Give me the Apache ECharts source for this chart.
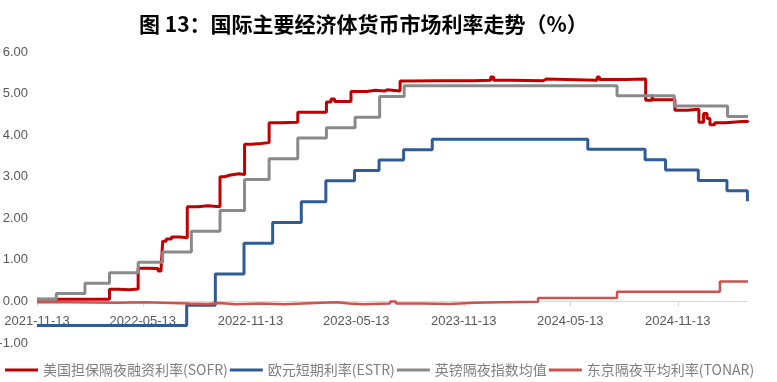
<!DOCTYPE html>
<html>
<head>
<meta charset="utf-8">
<script src="https://cdn.jsdelivr.net/npm/echarts@6.0.0/dist/echarts.min.js"></script>
<style>
  html, body { margin: 0; padding: 0; background: #fff; }
  #chart { width: 777px; height: 382px; }
</style>
</head>
<body>
<div id="chart"></div>
<script>
// 图 13：国际主要经济体货币市场利率走势（%）
const xTickLabels = ['2021-11-13', '2022-05-13', '2022-11-13', '2023-05-13', '2023-11-13', '2024-05-13', '2024-11-13'];
const xStart = '2021-11-13';
const xEnd = '2025-03-13';

// 美国担保隔夜融资利率(SOFR)
const sofrDates = ['2021-11-13', '2022-03-17', '2022-04-01', '2022-04-20', '2022-05-05', '2022-05-20', '2022-06-08', '2022-06-13',
  '2022-06-16', '2022-06-22', '2022-07-01', '2022-07-15', '2022-07-28', '2022-08-15', '2022-09-01',
  '2022-09-22', '2022-09-30', '2022-10-10', '2022-10-25', '2022-11-03', '2022-11-15', '2022-12-01',
  '2022-12-15', '2023-01-03', '2023-02-02', '2023-03-23', '2023-03-31', '2023-04-06',
  '2023-05-04', '2023-05-31', '2023-06-15', '2023-06-30', '2023-07-05', '2023-07-27', '2023-08-15',
  '2023-09-29', '2023-10-02', '2023-11-30', '2023-12-01', '2023-12-29', '2024-01-03', '2024-02-01',
  '2024-03-28', '2024-04-02', '2024-06-28', '2024-07-02', '2024-08-15', '2024-09-19', '2024-09-30',
  '2024-10-01', '2024-10-31', '2024-11-08', '2024-11-29', '2024-12-19', '2024-12-27', '2025-01-02',
  '2025-01-07', '2025-01-15', '2025-02-03', '2025-03-03', '2025-03-13'];
const sofrValues = [0.05, 0.29, 0.28, 0.30, 0.80, 0.79, 0.73, 0.70,
  1.45, 1.50, 1.55, 1.53, 2.28, 2.30, 2.28,
  3.00, 3.04, 3.07, 3.05, 3.78, 3.80, 3.82,
  4.30, 4.31, 4.55, 4.80, 4.87, 4.81,
  5.05, 5.08, 5.06, 5.09, 5.06, 5.30, 5.31,
  5.33, 5.31, 5.35, 5.32, 5.40, 5.32, 5.31,
  5.35, 5.32, 5.40, 5.34, 5.35, 4.84, 4.98,
  4.85, 4.86, 4.60, 4.62, 4.31, 4.52, 4.40,
  4.25, 4.30, 4.33, 4.33, 4.31];

// 欧元短期利率(ESTR)
const estrDates = ['2021-11-13', '2022-07-27', '2022-09-14', '2022-11-02', '2022-12-21', '2023-02-08', '2023-03-22',
  '2023-05-10', '2023-06-21', '2023-08-02', '2023-09-20', '2024-06-12', '2024-09-18', '2024-10-23',
  '2024-12-18', '2025-02-05', '2025-03-12', '2025-03-13'];
const estrValues = [-0.58, -0.09, 0.66, 1.40, 1.90, 2.40, 2.90,
  3.15, 3.40, 3.65, 3.90, 3.66, 3.41, 3.16,
  2.91, 2.66, 2.41, 2.41];

// 英镑隔夜指数均值
const soniaDates = ['2021-11-13', '2021-12-16', '2022-02-03', '2022-03-17', '2022-05-05', '2022-06-16', '2022-08-04',
  '2022-09-22', '2022-11-03', '2022-12-15', '2023-02-02', '2023-03-23', '2023-05-11', '2023-06-22',
  '2023-08-03', '2024-08-01', '2024-11-07', '2025-02-06', '2025-03-13'];
const soniaValues = [0.05, 0.19, 0.44, 0.69, 0.94, 1.19, 1.69,
  2.19, 2.93, 3.43, 3.93, 4.18, 4.43, 4.93,
  5.19, 4.95, 4.70, 4.45, 4.45];

// 东京隔夜平均利率(TONAR)
const tonarDates = ['2021-11-13', '2022-01-04', '2022-04-01', '2022-05-16', '2022-06-15', '2022-08-01', '2022-09-01',
  '2022-09-20', '2022-10-20', '2022-12-01', '2023-01-10', '2023-03-15', '2023-04-10', '2023-05-01',
  '2023-05-25', '2023-07-10', '2023-07-20', '2023-09-01', '2023-10-20', '2023-12-01', '2024-01-15',
  '2024-03-19', '2024-08-01', '2025-01-24', '2025-03-13'];
const tonarValues = [-0.02, -0.03, -0.02, -0.03, -0.05, -0.06, -0.04,
  -0.07, -0.05, -0.07, -0.03, -0.02, -0.05, -0.07,
  -0.05, 0.00, -0.05, -0.06, -0.03, -0.02, -0.01,
  0.08, 0.23, 0.48, 0.48];

const seriesNames = ['美国担保隔夜融资利率(SOFR)', '欧元短期利率(ESTR)', '英镑隔夜指数均值', '东京隔夜平均利率(TONAR)'];
const seriesColors = ['#C00000', '#2F5C96', '#8A8A8A', '#CD5350'];

const yMin = -1, yMax = 6;
const gridTop = 52, gridBottom = 39, chartHeight = 382;

const toTime = s => echarts.number.parseDate(s).getTime();
function pairs(dates, values) {
  return dates.map((d, i) => [toTime(d), values[i]]);
}
const tickTimes = xTickLabels.map(toTime);

// x 轴放在 0 值处（onZero 对数值型 x 轴不起作用，用 offset 上移）
const plotHeight = chartHeight - gridTop - gridBottom;
const zeroOffset = -plotHeight * (0 - yMin) / (yMax - yMin);

const myChart = echarts.init(document.getElementById('chart'));

const option = {
  animation: false,
  backgroundColor: '#fff',
  title: {
    text: '图 13：国际主要经济体货币市场利率走势（%）',
    left: 134,
    top: 9,
    textStyle: {
      fontFamily: 'Noto Sans CJK SC',
      fontSize: 21,
      fontWeight: 'bold',
      color: '#000'
    }
  },
  legend: {
    data: seriesNames,
    left: 0,
    top: 358,
    itemGap: 2,
    itemWidth: 33,
    itemHeight: 3,
    icon: 'rect',
    textStyle: {
      fontFamily: 'Noto Sans CJK SC',
      fontSize: 14,
      color: '#7f7f7f'
    }
  },
  grid: {
    left: 37,
    right: 29,
    top: gridTop,
    bottom: gridBottom,
    outerBoundsMode: 'none'
  },
  xAxis: {
    type: 'value',
    min: toTime(xStart),
    max: toTime(xEnd),
    position: 'bottom',
    offset: zeroOffset,
    axisLine: { onZero: false, lineStyle: { color: '#d9d9d9', width: 1 } },
    axisTick: {
      show: true,
      customValues: tickTimes,
      length: 5,
      lineStyle: { color: '#d9d9d9' }
    },
    axisLabel: {
      customValues: tickTimes,
      formatter: v => xTickLabels[tickTimes.indexOf(v)] || echarts.time.format(v, '{yyyy}-{MM}-{dd}'),
      fontFamily: 'Liberation Sans',
      fontSize: 13,
      color: '#595959',
      margin: 13
    },
    splitLine: { show: false }
  },
  yAxis: {
    type: 'value',
    min: yMin,
    max: yMax,
    interval: 1,
    axisLine: { show: false, onZero: false },
    axisTick: { show: false },
    splitLine: { show: false },
    axisLabel: {
      formatter: v => v.toFixed(2),
      fontFamily: 'Liberation Sans',
      fontSize: 13,
      color: '#595959',
      margin: 9
    }
  },
  series: [
    [sofrDates, sofrValues],
    [estrDates, estrValues],
    [soniaDates, soniaValues],
    [tonarDates, tonarValues]
  ].map((s, i) => ({
    name: seriesNames[i],
    type: 'line',
    step: 'end',
    symbol: 'none',
    color: seriesColors[i],
    lineStyle: { width: i === 3 ? 2.5 : 3, color: seriesColors[i] },
    data: pairs(s[0], s[1])
  }))
};

myChart.setOption(option);

window.addEventListener('resize', function () {
  myChart.resize();
}, false);
</script>
</body>
</html>
